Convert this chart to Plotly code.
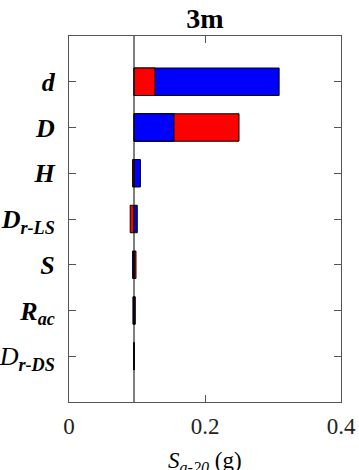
import plotly.graph_objects as go

# ---- data ----
categories = ["d", "D", "H", "Dr-LS", "S", "Rac", "Dr-DS"]
tick_labels = [
    "<b><i>d</i></b>",
    "<b><i>D</i></b>",
    "<b><i>H</i></b>",
    "<b><i>D<sub>r-LS</sub></i></b>",
    "<b><i>S</i></b>",
    "<b><i>R<sub>ac</sub></i></b>",
    "<i>D</i><b><i><sub>r-DS</sub></i></b>",
]
base_value = 0.0956
red_values = [0.1265, 0.2500, 0.0935, 0.0900, 0.0985, 0.0975, 0.0957]
blue_values = [0.3090, 0.1544, 0.1050, 0.1004, 0.0935, 0.0940, 0.0955]
x_ticks = [0, 0.2, 0.4]
x_tick_labels = ["0", "0.2", "0.4"]

RED = "#FF0000"
BLUE = "#0000FF"

# larger deviation drawn first, smaller one on top
outer_x, outer_c, inner_x, inner_c = [], [], [], []
for r, b in zip(red_values, blue_values):
    dr, db = r - base_value, b - base_value
    if abs(dr) >= abs(db):
        outer_x.append(dr); outer_c.append(RED)
        inner_x.append(db); inner_c.append(BLUE)
    else:
        outer_x.append(db); outer_c.append(BLUE)
        inner_x.append(dr); inner_c.append(RED)

fig = go.Figure()
for xs, cs in [(outer_x, outer_c), (inner_x, inner_c)]:
    fig.add_trace(go.Bar(
        y=categories, x=xs, base=base_value, orientation="h",
        width=0.6,
        marker=dict(color=cs, line=dict(color="#000000", width=1)),
        showlegend=False,
    ))

fig.add_shape(type="line", xref="x", yref="paper",
              x0=base_value, x1=base_value, y0=0, y1=1,
              line=dict(color="#000000", width=1), layer="above")

font_family = "'Liberation Serif', 'Times New Roman', 'DejaVu Serif', serif"

fig.update_layout(
    width=359, height=470,
    margin=dict(l=69, r=18, t=36, b=68, autoexpand=False),
    barmode="overlay",
    plot_bgcolor="white", paper_bgcolor="white",
    font=dict(family=font_family, color="#000000"),
    title=dict(text="<b>3m</b>", x=0.5, xref="paper", xanchor="center",
               y=0.962, yanchor="middle",
               font=dict(family=font_family, size=28, color="#000000")),
)

fig.update_xaxes(
    range=[0, 0.4], tickvals=x_ticks, ticktext=x_tick_labels,
    ticks="inside", ticklen=7, tickcolor="#555555",
    showline=True, linecolor="#555555", linewidth=1, mirror="ticks",
    showgrid=False, zeroline=False, automargin=False,
    ticklabelstandoff=3,
    tickfont=dict(family=font_family, size=23, color="#222222"),
)
fig.update_yaxes(
    categoryorder="array", categoryarray=categories,
    range=[7, -1],
    tickvals=categories, ticktext=tick_labels,
    ticks="inside", ticklen=7, tickcolor="#555555",
    showline=True, linecolor="#555555", linewidth=1, mirror="ticks",
    showgrid=False, zeroline=False, automargin=False,
    ticklabelstandoff=8,
    tickfont=dict(family=font_family, size=26, color="#000000"),
)

fig.add_annotation(
    text="<i>S</i><sub><i>a-20</i></sub> (g)",
    xref="paper", yref="paper", x=0.5, y=-0.165,
    xanchor="center", yanchor="middle", showarrow=False,
    font=dict(family=font_family, size=23, color="#000000"),
)

fig.write_html("out.html")
